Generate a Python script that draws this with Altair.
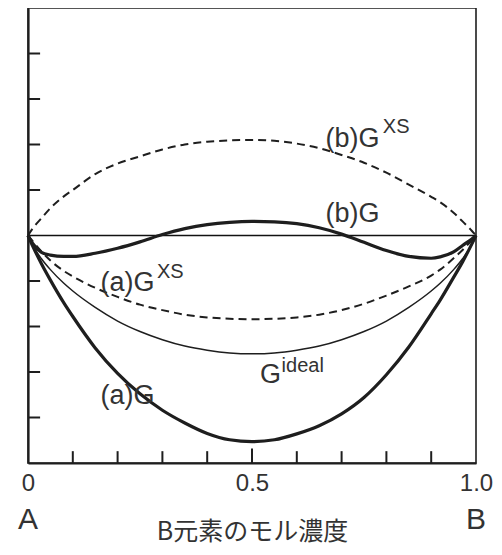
import altair as alt
import pandas as pd

# composition grid (mole fraction of B)
x_grid = [0, 0.01, 0.03, 0.05, 0.08, 0.1, 0.15, 0.2, 0.25, 0.3, 0.35, 0.4, 0.45, 0.5,
          0.55, 0.6, 0.65, 0.7, 0.75, 0.8, 0.85, 0.9, 0.92, 0.95, 0.97, 0.99, 1.0]

g_ideal = [0, -0.21, -0.51, -0.75, -1.05, -1.22, -1.58, -1.88, -2.11, -2.29, -2.43, -2.52, -2.58, -2.60,
           -2.58, -2.52, -2.43, -2.29, -2.11, -1.88, -1.58, -1.22, -1.05, -0.75, -0.51, -0.21, 0]
a_gxs = [0, -0.12, -0.35, -0.55, -0.78, -0.90, -1.15, -1.35, -1.52, -1.64, -1.74, -1.80, -1.83, -1.84,
         -1.83, -1.80, -1.74, -1.64, -1.50, -1.32, -1.12, -0.88, -0.75, -0.50, -0.32, -0.11, 0]
b_gxs = [0, 0.15, 0.38, 0.60, 0.86, 1.00, 1.35, 1.58, 1.74, 1.89, 2.00, 2.06, 2.09, 2.10,
         2.08, 2.02, 1.92, 1.77, 1.60, 1.38, 1.12, 0.85, 0.73, 0.50, 0.31, 0.11, 0]
a_g = [0, -0.22, -0.62, -0.98, -1.48, -1.78, -2.47, -3.03, -3.48, -3.84, -4.12, -4.35, -4.49, -4.53,
       -4.49, -4.36, -4.18, -3.92, -3.56, -3.06, -2.45, -1.72, -1.42, -0.92, -0.58, -0.20, 0]
b_g = [0, -0.17, -0.37, -0.43, -0.46, -0.46, -0.39, -0.28, -0.14, 0.02, 0.15, 0.24, 0.29, 0.31,
       0.30, 0.26, 0.17, 0.03, -0.15, -0.33, -0.46, -0.50, -0.47, -0.36, -0.22, -0.08, 0]

# axis ticks
x_ticks = [0.1, 0.2, 0.3, 0.4, 0.5, 0.6, 0.7, 0.8, 0.9]
y_ticks = [-4, -3, -2, -1, 1, 2, 3, 4]
x_label_values = [0, 0.5, 1.0]

# curve annotations (main text + superscript)
lab_text = ["(b)G", "(b)G", "(a)G", "G", "(a)G"]
lab_x = [0.664, 0.664, 0.162, 0.518, 0.162]
lab_y = [1.94, 0.29, -1.22, -3.24, -3.70]
sup_text = ["XS", "XS", "ideal"]
sup_x = [0.792, 0.288, 0.566]
sup_y = [2.25, -0.93, -3.00]

end_text = ["A", "B"]
end_x = [0.0, 1.0]
end_y = [-6.25, -6.25]

W, H = 448, 455
xs = alt.Scale(domain=[0, 1], nice=False, zero=False)
ys = alt.Scale(domain=[-5, 5], nice=False, zero=False)
INK = "#1e1e1e"
TXT = "#333333"
FONT = "Liberation Sans"


def curve(vals, width, dash=None):
    df = pd.DataFrame({"x": x_grid, "y": vals})
    kw = dict(color=INK, strokeWidth=width, interpolate="monotone", clip=False)
    if dash:
        kw["strokeDash"] = dash
    return alt.Chart(df).mark_line(**kw).encode(
        x=alt.X("x:Q", scale=xs), y=alt.Y("y:Q", scale=ys))


zero_df = pd.DataFrame({"x": [0.0, 1.0], "y": [0.0, 0.0]})
zero_line = alt.Chart(zero_df).mark_line(color="#111111", strokeWidth=1.3).encode(
    x=alt.X("x:Q", scale=xs,
            axis=alt.Axis(values=x_label_values, ticks=False, grid=False,
                          labelExpr="datum.value == 0 ? '0' : (datum.value == 1 ? '1.0' : '0.5')",
                          labelFontSize=24, labelFont=FONT, labelColor=TXT, labelPadding=8,
                          labelFlush=False, domainColor=INK, domainWidth=2.2,
                          title="B元素のモル濃度", titleFont="Noto Sans CJK JP", titleFontSize=25,
                          titleFontWeight="normal", titleColor=TXT, titlePadding=24)),
    y=alt.Y("y:Q", scale=ys,
            axis=alt.Axis(labels=False, ticks=False, grid=False, title=None,
                          domainColor=INK, domainWidth=2.2)),
)

xt_df = pd.DataFrame({"x": x_ticks})
xt = alt.Chart(xt_df).transform_calculate(
    y0="-5", y1="datum.x == 0.5 ? -4.68 : -4.74"
).mark_rule(color=INK, strokeWidth=2).encode(
    x=alt.X("x:Q", scale=xs), y=alt.Y("y0:Q", scale=ys), y2="y1:Q")

yt_df = pd.DataFrame({"y": y_ticks})
yt = alt.Chart(yt_df).transform_calculate(
    x0="0", x1="0.027"
).mark_rule(color=INK, strokeWidth=2).encode(
    y=alt.Y("y:Q", scale=ys), x=alt.X("x0:Q", scale=xs), x2="x1:Q")

lab_df = pd.DataFrame({"t": lab_text, "x": lab_x, "y": lab_y})
labels = alt.Chart(lab_df).mark_text(
    align="left", baseline="alphabetic", font=FONT, fontSize=27, color=TXT
).encode(x=alt.X("x:Q", scale=xs), y=alt.Y("y:Q", scale=ys), text="t:N")

sup_df = pd.DataFrame({"t": sup_text, "x": sup_x, "y": sup_y})
sups = alt.Chart(sup_df).mark_text(
    align="left", baseline="alphabetic", font=FONT, fontSize=20, color=TXT
).encode(x=alt.X("x:Q", scale=xs), y=alt.Y("y:Q", scale=ys), text="t:N")

end_df = pd.DataFrame({"t": end_text, "x": end_x, "y": end_y})
ends = alt.Chart(end_df).mark_text(
    align="center", baseline="middle", font=FONT, fontSize=30, color=TXT
).encode(x=alt.X("x:Q", scale=xs), y=alt.Y("y:Q", scale=ys), text="t:N")

chart = alt.layer(
    zero_line,
    xt, yt,
    curve(b_gxs, 2, [8, 5]),
    curve(a_gxs, 2, [8, 5]),
    curve(g_ideal, 1.5),
    curve(b_g, 3.2),
    curve(a_g, 3.2),
    labels, sups, ends,
).properties(
    width=W, height=H,
    autosize=alt.AutoSizeParams(type="none"),
    padding={"left": 20, "top": 0, "right": 18, "bottom": 84},
).configure_view(stroke=INK, strokeWidth=1.6)

chart.save("out.html", embed_options={"renderer": "svg", "actions": False})
